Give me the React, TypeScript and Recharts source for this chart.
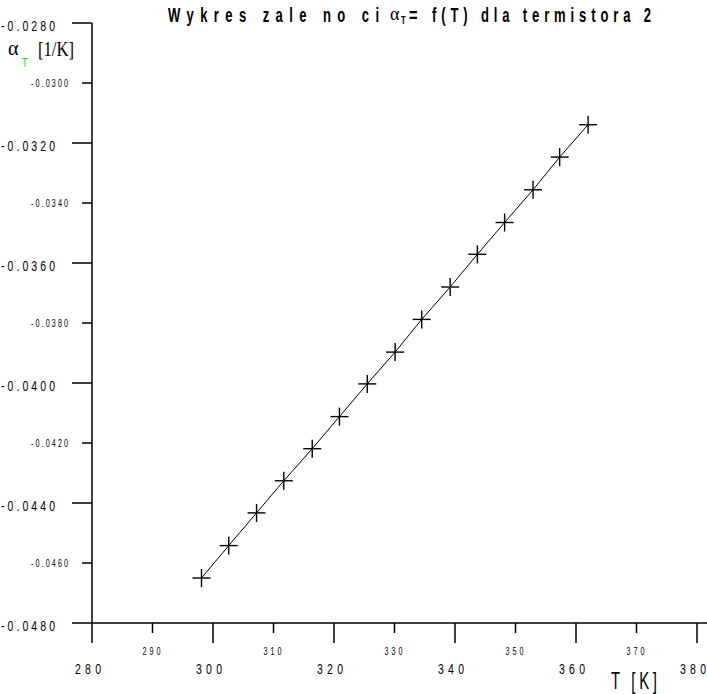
// Wykres zależności α_T = f(T) dla termistora 2 — plus markers joined by a line.

import { Scatter, ScatterChart, XAxis, YAxis } from "recharts";

const temps = [298.1, 302.6, 307.2, 311.7, 316.4, 320.9, 325.5, 330.1, 334.5, 339.2, 343.7, 348.2, 352.9, 357.3, 362.0];
const alphas = [
  -0.0465, -0.04542, -0.04433, -0.04326, -0.04219, -0.04112, -0.04003, -0.03897,
  -0.03788, -0.0368, -0.03571, -0.03465, -0.03356, -0.03247, -0.03139,
];

const xTicks = [280, 290, 300, 310, 320, 330, 340, 350, 360, 370, 380];
const xMajor = [280, 300, 320, 340, 360, 380];
const yTicks = [-0.048, -0.046, -0.044, -0.042, -0.04, -0.038, -0.036, -0.034, -0.032, -0.03, -0.028];
const yMajor = [-0.048, -0.044, -0.04, -0.036, -0.032, -0.028];

const data = temps.map((T, i) => ({ T, alpha: alphas[i] }));

const SANS = "'Liberation Sans', Arial, sans-serif";
const SERIF = "'Liberation Serif', 'DejaVu Serif', serif";

const isMajor = (list: number[], v: number) => list.some((m) => Math.abs(m - v) < 1e-9);

// condensed text: glyphs squeezed horizontally, spread out to a fixed width
function Narrow(props: any) {
  const { x, y, w, size, sx = 0.72, bold, fill = "#000", children } = props;
  return (
    <text
      transform={`translate(${x},${y}) scale(${sx},1)`}
      x={0}
      y={0}
      fontFamily={SANS}
      fontSize={size}
      fontWeight={bold ? "bold" : "normal"}
      fill={fill}
      textLength={w ? w / sx : undefined}
      lengthAdjust="spacing"
    >
      {children}
    </text>
  );
}

function XTick(props: any) {
  const { x, y, payload } = props;
  const v = payload.value as number;
  const major = isMajor(xMajor, v);
  return (
    <g>
      <line x1={x} y1={y} x2={x} y2={y + (major ? 20 : 10)} stroke="#000" strokeWidth={1.5} />
      {v === 380 && <line x1={x} y1={y} x2={x + 12} y2={y} stroke="#000" strokeWidth={1.5} />}
      {major ? (
        <Narrow x={x - 17} y={y + 51} w={26} size={14} sx={0.75}>{v}</Narrow>
      ) : (
        <Narrow x={x - 10} y={y + 32} w={18} size={10} sx={0.72}>{v}</Narrow>
      )}
    </g>
  );
}

function YTick(props: any) {
  const { x, y, payload } = props;
  const v = payload.value as number;
  const major = isMajor(yMajor, v);
  const label = v.toFixed(4);
  return (
    <g>
      <line x1={x - (major ? 20 : 10)} y1={y} x2={x} y2={y} stroke="#000" strokeWidth={1.5} />
      {major ? (
        <Narrow x={1} y={y + 8} w={54} size={14} sx={0.75}>{label}</Narrow>
      ) : (
        <Narrow x={31} y={y + 4} w={37} size={10} sx={0.72}>{label}</Narrow>
      )}
    </g>
  );
}

function Plus(props: any) {
  const { cx, cy } = props;
  return (
    <g>
      <line x1={cx - 9} y1={cy} x2={cx + 9} y2={cy} stroke="#000" strokeWidth={1.4} />
      <line x1={cx} y1={cy - 9} x2={cx} y2={cy + 9} stroke="#000" strokeWidth={1.4} />
    </g>
  );
}

export default function App() {
  return (
    <div style={{ position: "absolute", left: 0, top: 0, width: 707, height: 694, background: "#fff" }}>
      <ScatterChart width={707} height={694} margin={{ top: 23, right: 10, bottom: 0, left: 0 }}>
        <XAxis
          type="number"
          dataKey="T"
          domain={[280, 380]}
          ticks={xTicks}
          interval={0}
          height={71}
          tickSize={0}
          tickMargin={0}
          tickLine={false}
          tick={XTick}
          axisLine={{ stroke: "#000", strokeWidth: 1.5 }}
        />
        <YAxis
          type="number"
          dataKey="alpha"
          domain={[-0.048, -0.028]}
          ticks={yTicks}
          interval={0}
          width={92}
          tickSize={0}
          tickMargin={0}
          tickLine={false}
          tick={YTick}
          axisLine={{ stroke: "#000", strokeWidth: 1.5 }}
        />
        <Scatter
          data={data}
          line={{ stroke: "#000", strokeWidth: 1 }}
          shape={Plus}
          isAnimationActive={false}
        />
      </ScatterChart>
      <svg width={707} height={694} style={{ position: "absolute", left: 0, top: 0, pointerEvents: "none" }}>
        <Narrow x={168} y={22} w={211} size={21} sx={0.62} bold>Wykres zale no ci</Narrow>
        <text x={390} y={20} fontFamily={SERIF} fontSize={18}>α</text>
        <Narrow x={401} y={24} size={11} sx={0.7} bold>T</Narrow>
        <Narrow x={409} y={22} size={21} sx={0.7} bold>=</Narrow>
        <Narrow x={432} y={22} w={219} size={21} sx={0.62} bold>f(T) dla termistora 2</Narrow>
        <text x={8} y={55} fontFamily={SERIF} fontSize={20}>α</text>
        <Narrow x={22} y={67} size={12} sx={0.75} fill="#00dd00">T</Narrow>
        <text x={38} y={56} fontFamily={SERIF} fontSize={20} textLength={36} lengthAdjust="spacingAndGlyphs">
          [1/K]
        </text>
        <Narrow x={611} y={689} w={46} size={23} sx={0.65}>T [K]</Narrow>
      </svg>
    </div>
  );
}
